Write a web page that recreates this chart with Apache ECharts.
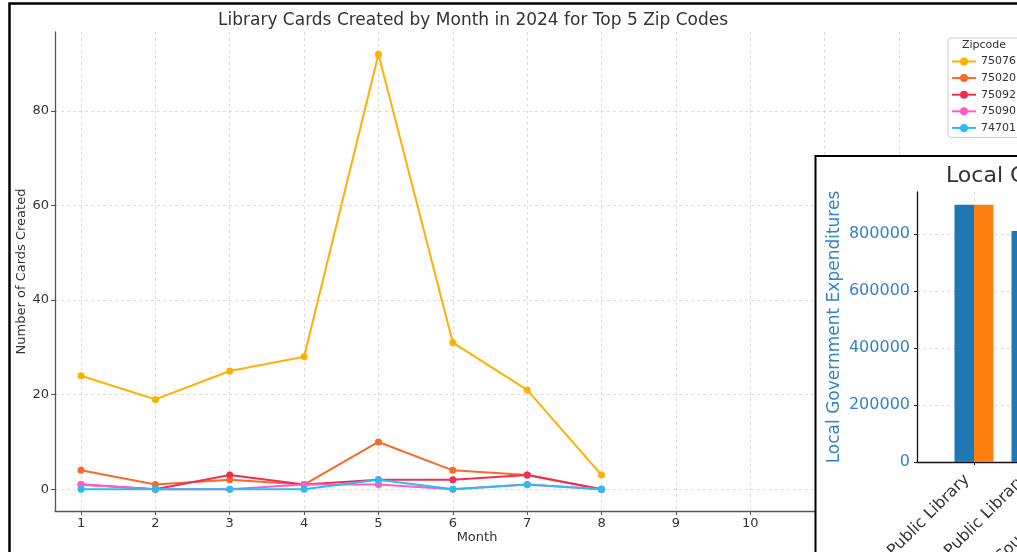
<!DOCTYPE html>
<html>
<head>
<meta charset="utf-8">
<script src="https://cdn.jsdelivr.net/npm/echarts@6/dist/echarts.min.js"></script>
<style>html,body{margin:0;padding:0;background:#fff}#c{width:1017px;height:552px}</style>
</head>
<body>
<div id="c"></div>
<script>
// ---- main chart data ----
const months = [1, 2, 3, 4, 5, 6, 7, 8];
const zipcodes = ['75076', '75020', '75092', '75090', '74701'];
const s75076 = [24, 19, 25, 28, 92, 31, 21, 3];
const s75020 = [4, 1, 2, 1, 10, 4, 3, 0];
const s75092 = [1, 0, 3, 1, 2, 2, 3, 0];
const s75090 = [1, 0, 0, 1, 1, 0, 1, 0];
const s74701 = [0, 0, 0, 0, 2, 0, 1, 0];
const xTicks = [1, 2, 3, 4, 5, 6, 7, 8, 9, 10, 11, 12];
const yTicks = [0, 20, 40, 60, 80];
const zipColors = ['#FFB000', '#F76A2B', '#EE2F52', '#FF5DC5', '#2BBBF7'];

// ---- inset chart data ----
const insetCategories = ['Public Library', 'Public Library', 'County Library'];
const insetBlue = [902000, 810000, 640000];
const insetOrange = [902000, 790000, 600000];
const insetYTicks = [0, 200000, 400000, 600000, 800000];
const insetXTicks = [0, 1, 2];

const seriesValues = [s75076, s75020, s75092, s75090, s74701];
const font = 'DejaVu Sans';
const insetBlueText = '#3384c6';

const chart = echarts.init(document.getElementById('c'), null, {renderer: 'canvas'});

const lineSeries = zipcodes.map((z, i) => ({
  name: z,
  type: 'line',
  xAxisIndex: 0, yAxisIndex: 0,
  data: months.map((m, j) => [m, seriesValues[i][j]]),
  symbol: 'circle',
  symbolSize: 7,
  color: zipColors[i],
  lineStyle: {width: 2, color: zipColors[i]},
  itemStyle: {color: zipColors[i]},
  emphasis: {disabled: true},
  animation: false,
  z: 2 + i * 0.01
}));

const dashed = {show: true, lineStyle: {type: [3, 3], color: '#d4d4d4', width: 0.8}};

const option = {
  animation: false,
  textStyle: {fontFamily: font},
  title: [
    {text: 'Library Cards Created by Month in 2024 for Top 5 Zip Codes', left: 218, top: 12, padding: 0,
     textStyle: {fontSize: 17, fontWeight: 'normal', color: '#333', fontFamily: font}},
    {text: 'Zipcode', left: 962, top: 40, padding: 0,
     textStyle: {fontSize: 11, fontWeight: 'normal', color: '#333', fontFamily: font}},
    {text: 'Local Government Expenditures by Category', left: 946, top: 165, padding: 0, z: 20,
     textStyle: {fontSize: 22, fontWeight: 'normal', color: '#333', fontFamily: font}}
  ],
  legend: {
    orient: 'vertical', left: 948, top: 38,
    padding: [18, 6, 4, 3],
    itemWidth: 24, itemHeight: 10, itemGap: 5.6, itemTextGap: 8,
    borderColor: '#cccccc', borderWidth: 1, borderRadius: 3,
    textStyle: {fontSize: 11, color: '#333', fontFamily: font},
    data: zipcodes
  },
  grid: [
    {left: 55, top: 32, width: 844, height: 479, outerBoundsMode: 'none', containLabel: false},
    {left: 917, top: 192, width: 228, height: 270, z: 20, outerBoundsMode: 'none', containLabel: false}
  ],
  xAxis: [
    {type: 'value', gridIndex: 0, min: 0.65, max: 12,
     name: 'Month', nameLocation: 'middle', nameGap: 20, nameMoveOverlap: false,
     nameTextStyle: {fontSize: 13, color: '#333', fontFamily: font},
     axisLine: {show: true, onZero: false, lineStyle: {color: '#555', width: 1.3}},
     axisTick: {show: true, length: 4, lineStyle: {color: '#555'}, customValues: xTicks},
     axisLabel: {fontSize: 13, color: '#333', margin: 6, customValues: xTicks, formatter: v => String(v)},
     splitLine: dashed},
    {type: 'value', gridIndex: 1, min: -1, max: 3, z: 20,
     axisLine: {show: true, onZero: false, lineStyle: {color: '#111', width: 1.3}},
     axisTick: {show: true, length: 3, lineStyle: {color: '#111'}, customValues: insetXTicks},
     axisLabel: {fontSize: 16, color: '#333', rotate: 45, margin: 8, padding: [0, 10, 0, 0],
                 customValues: insetXTicks, formatter: v => insetCategories[v] || ''},
     splitLine: dashed}
  ],
  yAxis: [
    {type: 'value', gridIndex: 0, min: -4.6, max: 96.7,
     name: 'Number of Cards Created', nameLocation: 'middle', nameGap: 26.5, nameMoveOverlap: false,
     nameTextStyle: {fontSize: 13, color: '#333', fontFamily: font},
     axisLine: {show: true, onZero: false, lineStyle: {color: '#555', width: 1.3}},
     axisTick: {show: true, length: 4, lineStyle: {color: '#555'}, customValues: yTicks},
     axisLabel: {fontSize: 13, color: '#333', margin: 6, customValues: yTicks, formatter: v => String(v)},
     splitLine: dashed},
    {type: 'value', gridIndex: 1, min: 0, max: 947000, z: 20,
     name: 'Local Government Expenditures', nameLocation: 'middle', nameGap: 74, nameMoveOverlap: false,
     nameTextStyle: {fontSize: 17, color: insetBlueText, fontFamily: font},
     axisLine: {show: true, onZero: false, lineStyle: {color: '#111', width: 1.3}},
     axisTick: {show: true, length: 3, lineStyle: {color: '#111'}, customValues: insetYTicks},
     axisLabel: {fontSize: 16, color: insetBlueText, margin: 7, customValues: insetYTicks, formatter: v => String(v)},
     splitLine: dashed}
  ],
  graphic: [
    {type: 'rect', z: 15, silent: true,
     shape: {x: 815.5, y: 156, width: 400, height: 500},
     style: {fill: '#fff', stroke: '#000', lineWidth: 2}},
    {type: 'rect', z: 40, silent: true,
     shape: {x: 9.5, y: 3.5, width: 1200, height: 700},
     style: {fill: 'none', stroke: '#000', lineWidth: 2.5}}
  ],
  series: lineSeries.concat([
    {name: 'blue', type: 'bar', xAxisIndex: 1, yAxisIndex: 1, z: 21,
     data: insetBlue.map((v, i) => [i, v]), barWidth: 19.5, barGap: '0%',
     itemStyle: {color: '#1f77b4'}},
    {name: 'orange', type: 'bar', xAxisIndex: 1, yAxisIndex: 1, z: 21,
     data: insetOrange.map((v, i) => [i, v]), barWidth: 19.5, barGap: '0%',
     itemStyle: {color: '#ff7f0e'}}
  ])
};
chart.setOption(option);
</script>
</body>
</html>
